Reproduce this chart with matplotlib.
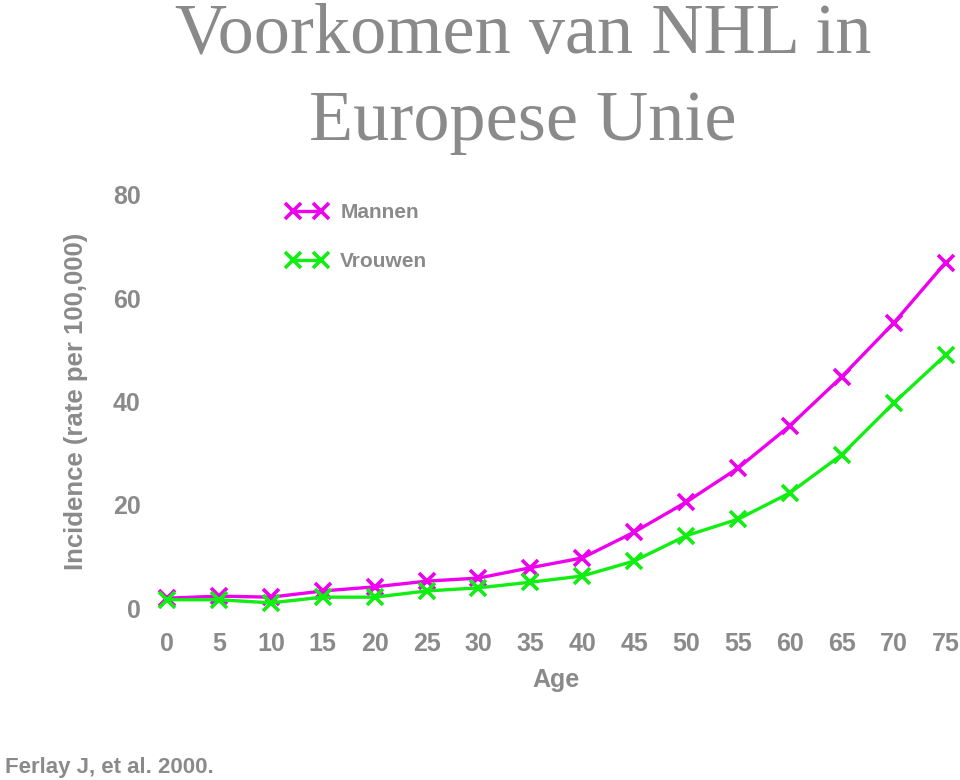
import matplotlib
matplotlib.use("Agg")
import matplotlib.pyplot as plt

ages = [0, 5, 10, 15, 20, 25, 30, 35, 40, 45, 50, 55, 60, 65, 70, 75]
mannen = [1.9, 2.3, 2.1, 3.3, 4.1, 5.2, 5.8, 7.8, 9.7, 14.7, 20.5, 27.1, 35.3, 44.8, 55.2, 66.9]
vrouwen = [1.6, 1.6, 1.0, 2.1, 2.1, 3.3, 3.9, 5.0, 6.2, 9.1, 14.0, 17.2, 22.3, 29.7, 39.7, 49.0]
yticks = [0, 20, 40, 60, 80]

GRAY = "#8a8a8a"
plt.rcParams['font.family'] = ['Liberation Sans', 'DejaVu Sans']
plt.rcParams['font.weight'] = 'bold'

fig = plt.figure(figsize=(9.6, 7.8), dpi=100)
ax = fig.add_axes([0.174, 0.2205, 0.811, 0.5295])

ax.plot(ages, mannen, color="#ee00ee", lw=2.4, marker="x", ms=11, mew=2.6,
        label="Mannen", clip_on=False)
ax.plot(ages, vrouwen, color="#11ee11", lw=2.4, marker="x", ms=11, mew=2.6,
        label="Vrouwen", clip_on=False)

ax.set_xlim(0, 75)
ax.set_ylim(0, 80)
ax.set_xticks(ages)
ax.set_yticks(yticks)
for s in ax.spines.values():
    s.set_visible(False)
ax.tick_params(axis="both", length=0, labelsize=18, labelcolor=GRAY)
ax.tick_params(axis="x", pad=17)
ax.tick_params(axis="y", pad=19)
for lbl in ax.get_xticklabels() + ax.get_yticklabels():
    lbl.set_fontweight("bold")

ax.set_xlabel("Age", fontsize=18, color=GRAY, fontweight="bold", labelpad=9)
ax.set_ylabel("Incidence (rate per 100,000)", fontsize=18.5, color=GRAY,
              fontweight="bold", labelpad=18)

leg = ax.legend(loc="upper left", bbox_to_anchor=(0.13, 1.025), frameon=False,
                numpoints=2, handlelength=1.95, labelspacing=1.42,
                prop={"size": 15, "weight": "bold"}, handletextpad=0.6)
for t in leg.get_texts():
    t.set_color(GRAY)

fig.text(0.545, 1 - 53 / 780, "Voorkomen van NHL in", ha="center", va="baseline",
         fontsize=52, color=GRAY, family="Liberation Serif", fontweight="normal")
fig.text(0.545, 1 - 140 / 780, "Europese Unie", ha="center", va="baseline",
         fontsize=52, color=GRAY, family="Liberation Serif", fontweight="normal")

fig.text(0.005, 1 - 767 / 780, "Ferlay J, et al. 2000.", fontsize=16, color=GRAY,
         ha="left", va="center", fontweight="bold")

fig.savefig("out.png", dpi=100)
